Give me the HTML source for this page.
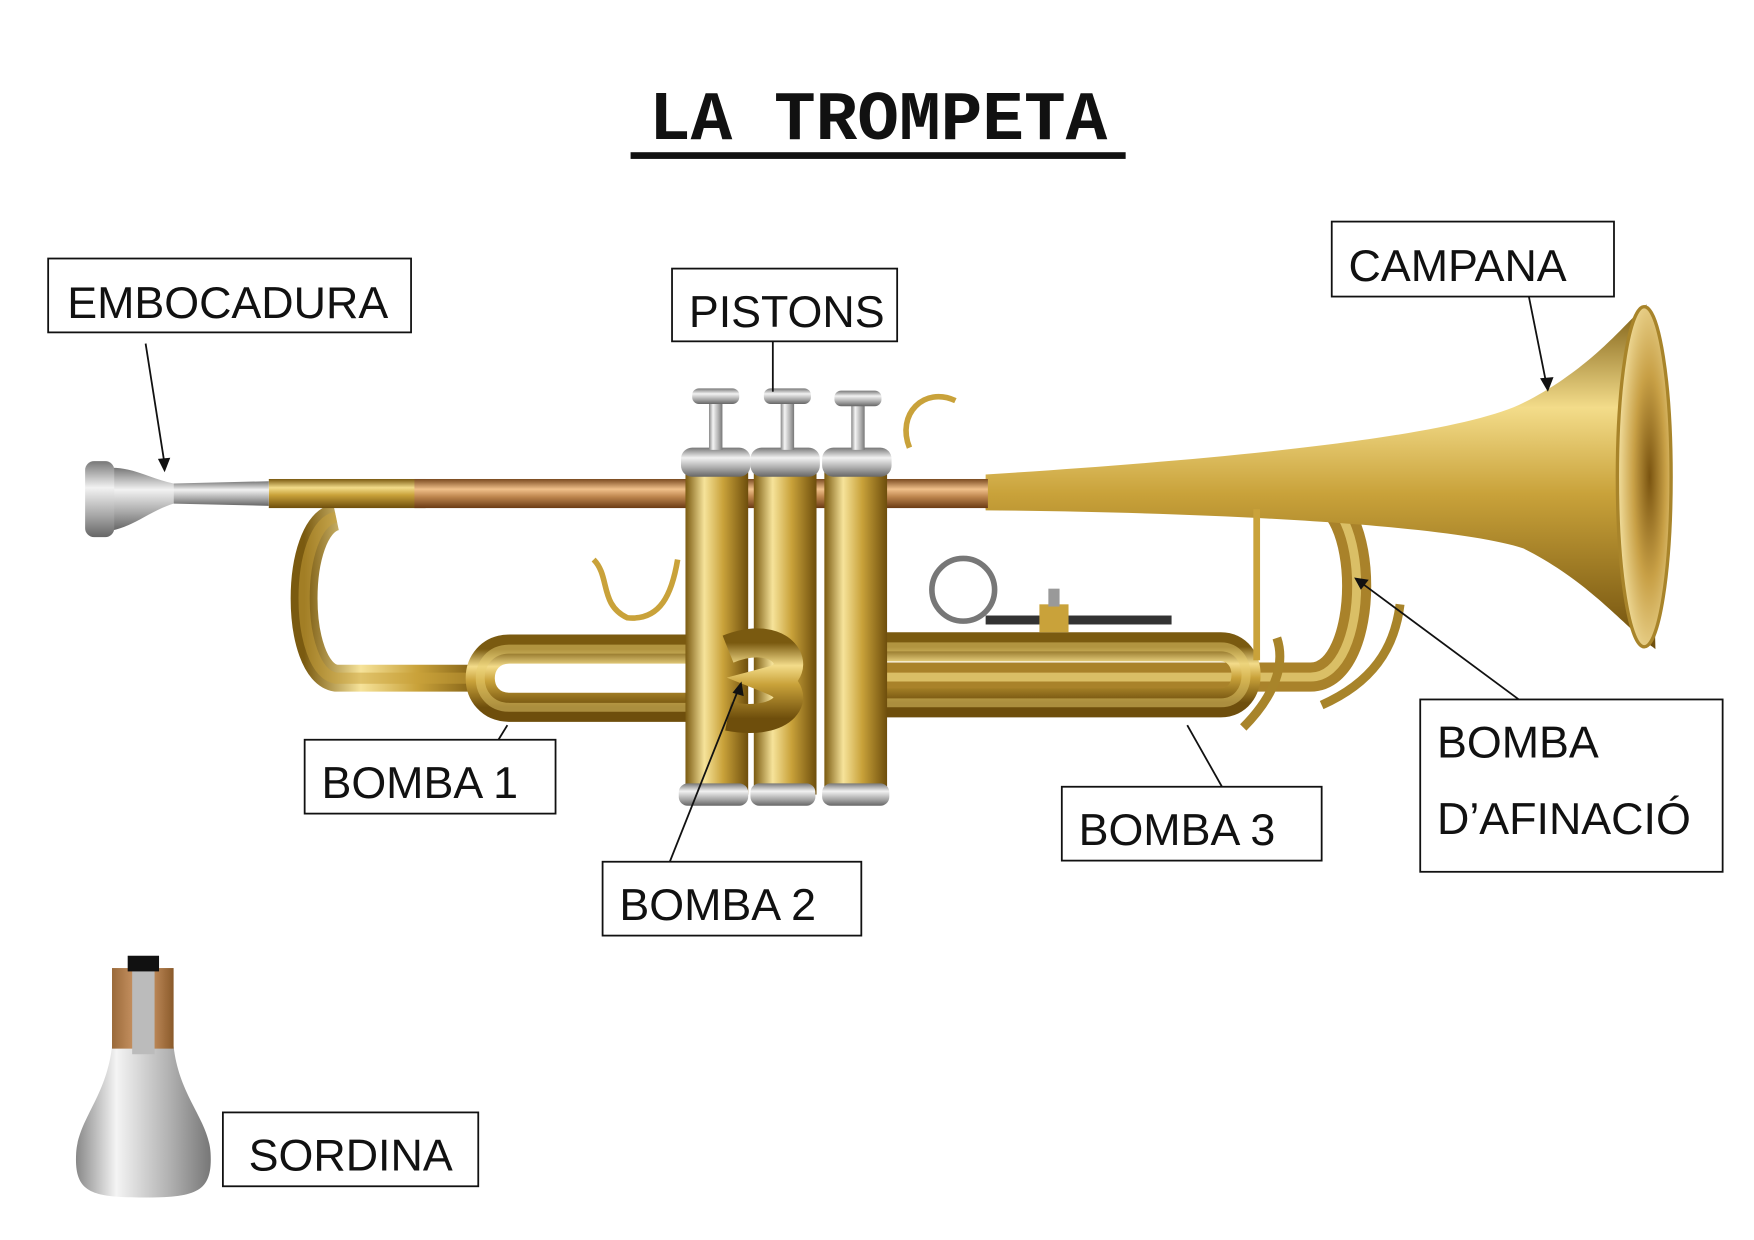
<!DOCTYPE html>
<html><head><meta charset="utf-8">
<style>
html,body{margin:0;padding:0;background:#fff;}
svg{display:block;}
.lbl{font-family:"Liberation Sans",sans-serif;font-size:40px;fill:#111;}
</style></head>
<body>
<svg width="1754" height="1240" viewBox="0 0 1566 1108" preserveAspectRatio="none" xmlns="http://www.w3.org/2000/svg">
<defs>
<linearGradient id="brass" x1="0" y1="0" x2="0" y2="1">
<stop offset="0" stop-color="#7a5a10"/><stop offset="0.3" stop-color="#f3dc8a"/><stop offset="0.55" stop-color="#c9a23a"/><stop offset="1" stop-color="#6e4e0c"/></linearGradient>
<linearGradient id="brassV" x1="0" y1="0" x2="1" y2="0">
<stop offset="0" stop-color="#7a5a10"/><stop offset="0.3" stop-color="#f6e39a"/><stop offset="0.6" stop-color="#c9a23a"/><stop offset="1" stop-color="#6e4e0c"/></linearGradient>
<linearGradient id="copper" x1="0" y1="0" x2="0" y2="1">
<stop offset="0" stop-color="#7a4a20"/><stop offset="0.35" stop-color="#f0c08a"/><stop offset="0.6" stop-color="#c08850"/><stop offset="1" stop-color="#6a3a14"/></linearGradient>
<linearGradient id="silver" x1="0" y1="0" x2="0" y2="1">
<stop offset="0" stop-color="#777"/><stop offset="0.35" stop-color="#f2f2f2"/><stop offset="0.7" stop-color="#aaa"/><stop offset="1" stop-color="#666"/></linearGradient>
<linearGradient id="silverV" x1="0" y1="0" x2="1" y2="0">
<stop offset="0" stop-color="#888"/><stop offset="0.3" stop-color="#f4f4f4"/><stop offset="0.7" stop-color="#b0b0b0"/><stop offset="1" stop-color="#777"/></linearGradient>
<radialGradient id="bell" cx="0.6" cy="0.5" r="0.6">
<stop offset="0" stop-color="#7a5410"/><stop offset="0.5" stop-color="#c8a046"/><stop offset="1" stop-color="#f3e0a0"/></radialGradient>
<linearGradient id="cork" x1="0" y1="0" x2="1" y2="0">
<stop offset="0" stop-color="#9a6a3a"/><stop offset="0.5" stop-color="#d7a070"/><stop offset="1" stop-color="#8a5a2a"/></linearGradient>
</defs>

<text x="784" y="124" text-anchor="middle" font-family="Liberation Mono,monospace" font-weight="bold" font-size="62" fill="#111">LA TROMPETA</text>
<rect x="563" y="136" width="442" height="6" fill="#111"/>

<path d="M300,462 C262,470 262,600 300,606 L440,606" fill="none" stroke="url(#brassV)" stroke-width="24"/>
<path d="M300,462 C262,470 262,600 300,606 L440,606" fill="none" stroke="#c9a23a" stroke-width="10" opacity="0.5"/>
<path d="M880,442 L1170,442 C1225,442 1225,605 1170,605 L780,605" fill="none" stroke="#a9822a" stroke-width="26"/>
<path d="M880,442 L1170,442 C1225,442 1225,605 1170,605 L780,605" fill="none" stroke="#f0d880" stroke-width="8" opacity="0.7"/>
<path d="M880,424 C1100,410 1300,390 1360,360 C1420,330 1450,290 1470,272 L1478,580 C1450,560 1420,520 1360,490 C1300,470 1100,458 880,456 Z" fill="url(#brass)"/>
<ellipse cx="1468" cy="426" rx="24" ry="152" fill="url(#bell)" stroke="#a8842a" stroke-width="3"/>
<rect x="240" y="428" width="140" height="26" fill="url(#brass)"/>
<rect x="370" y="428" width="512" height="26" fill="url(#copper)"/>
<path d="M155,432 L240,430 L240,452 L155,450 Z" fill="url(#silver)"/>
<path d="M100,418 C120,418 135,428 155,432 L155,450 C135,456 120,470 100,474 Z" fill="url(#silver)"/>
<rect x="76" y="412" width="26" height="68" rx="8" fill="url(#silver)"/>

<path d="M630,580 L455,580 C420,580 420,632 455,632 L630,632" fill="none" stroke="url(#brass)" stroke-width="26"/>
<path d="M630,580 L455,580 C420,580 420,632 455,632 L630,632" fill="none" stroke="#e8cd70" stroke-width="8" opacity="0.5"/>
<path d="M790,578 L1090,578 C1120,578 1120,628 1090,628 L790,628" fill="none" stroke="url(#brass)" stroke-width="26"/>
<path d="M790,578 L1090,578 C1120,578 1120,628 1090,628 L790,628" fill="none" stroke="#e8cd70" stroke-width="8" opacity="0.5"/>
<line x1="1122" y1="455" x2="1122" y2="590" stroke="#c9a23a" stroke-width="6"/>

<g>
<rect x="612" y="420" width="56" height="290" fill="url(#brassV)"/>
<rect x="673" y="420" width="56" height="290" fill="url(#brassV)"/>
<rect x="736" y="420" width="56" height="290" fill="url(#brassV)"/>
<rect x="608" y="400" width="62" height="26" rx="10" fill="url(#silver)"/>
<rect x="670" y="400" width="62" height="26" rx="10" fill="url(#silver)"/>
<rect x="734" y="400" width="62" height="26" rx="10" fill="url(#silver)"/>
<rect x="606" y="700" width="62" height="20" rx="8" fill="url(#silver)"/>
<rect x="670" y="700" width="58" height="20" rx="8" fill="url(#silver)"/>
<rect x="734" y="700" width="60" height="20" rx="8" fill="url(#silver)"/>
<rect x="633" y="358" width="12" height="44" fill="url(#silverV)"/>
<rect x="697" y="358" width="12" height="44" fill="url(#silverV)"/>
<rect x="760" y="358" width="12" height="44" fill="url(#silverV)"/>
<rect x="618" y="347" width="42" height="14" rx="6" fill="url(#silver)"/>
<rect x="682" y="347" width="42" height="14" rx="6" fill="url(#silver)"/>
<rect x="745" y="349" width="42" height="14" rx="6" fill="url(#silver)"/>
</g>
<path d="M650,580 C700,560 720,600 690,608 C720,620 700,650 650,640" fill="none" stroke="url(#brass)" stroke-width="26"/>
<path d="M812,400 C800,370 825,345 853,358" fill="none" stroke="#c9a23a" stroke-width="5"/>
<path d="M530,500 C545,515 535,540 560,552 C590,555 600,530 605,500" fill="none" stroke="#c9a23a" stroke-width="5"/>
<circle cx="860" cy="527" r="28" fill="none" stroke="#777" stroke-width="5"/>
<rect x="880" y="550" width="166" height="8" fill="#333"/>
<rect x="928" y="540" width="26" height="25" fill="#c9a23a"/>
<rect x="936" y="526" width="10" height="16" fill="#999"/>
<path d="M1140,570 C1150,600 1130,630 1110,650" fill="none" stroke="#a8842a" stroke-width="8"/>
<path d="M1250,540 C1245,580 1225,610 1180,630" fill="none" stroke="#a8842a" stroke-width="8"/>

<path d="M100,935 C95,980 70,1000 68,1030 C66,1065 80,1070 128,1070 C176,1070 190,1065 188,1030 C186,1000 160,980 155,935 Z" fill="url(#silverV)"/>
<rect x="100" y="865" width="55" height="72" fill="url(#cork)"/>
<rect x="118" y="862" width="20" height="80" fill="#bbb"/>
<rect x="114" y="854" width="28" height="14" fill="#111"/>

<g stroke="#111" stroke-width="1.6" fill="none">
<line x1="130" y1="307" x2="147" y2="415"/>
<line x1="690" y1="305" x2="690" y2="350"/>
<line x1="1365" y1="265" x2="1381" y2="345"/>
<line x1="1356" y1="625" x2="1213" y2="519"/>
<line x1="1091" y1="703" x2="1060" y2="648"/>
<line x1="598" y1="770" x2="660" y2="614"/>
<line x1="445" y1="661" x2="453" y2="648"/>
</g>
<g fill="#111">
<polygon points="147,422 141,410 152,409"/>
<polygon points="1382,350 1375,338 1387,337"/>
<polygon points="1209,516 1222,518 1215,527"/>
<polygon points="662,609 664,622 654,619"/>
</g>

<g fill="#fff" stroke="#111" stroke-width="1.6">
<rect x="43" y="231" width="324" height="66"/>
<rect x="600" y="240" width="201" height="65"/>
<rect x="1189" y="198" width="252" height="67"/>
<rect x="272" y="661" width="224" height="66"/>
<rect x="538" y="770" width="231" height="66"/>
<rect x="948" y="703" width="232" height="66"/>
<rect x="1268" y="625" width="270" height="154"/>
<rect x="199" y="994" width="228" height="66"/>
</g>
<g class="lbl">
<text x="60" y="284">EMBOCADURA</text>
<text x="615" y="292">PISTONS</text>
<text x="1204" y="251">CAMPANA</text>
<text x="287" y="713">BOMBA 1</text>
<text x="553" y="822">BOMBA 2</text>
<text x="963" y="755">BOMBA 3</text>
<text x="1283" y="677">BOMBA</text>
<text x="1283" y="745">D’AFINACIÓ</text>
<text x="222" y="1046">SORDINA</text>
</g>
</svg>
</body></html>
